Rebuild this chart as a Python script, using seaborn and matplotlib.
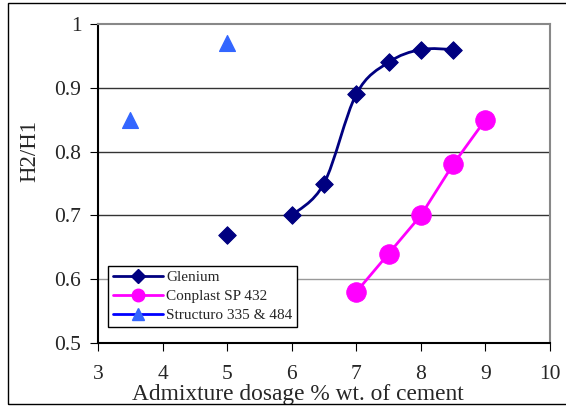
import numpy as np
import seaborn as sns
import matplotlib.pyplot as plt
from matplotlib.path import Path
from matplotlib.patches import PathPatch, Rectangle
from matplotlib.lines import Line2D

# ---------------------------------------------------------
# Data
# ---------------------------------------------------------
glenium_x = [5, 6, 6.5, 7, 7.5, 8, 8.5]
glenium_y = [0.67, 0.70, 0.75, 0.89, 0.94, 0.96, 0.96]
conplast_x = [7, 7.5, 8, 8.5, 9]
conplast_y = [0.58, 0.64, 0.70, 0.78, 0.85]
structuro_x = [3.5, 5]
structuro_y = [0.85, 0.97]

series_names = ["Glenium", "Conplast SP 432", "Structuro 335 & 484"]
x_ticks = [3, 4, 5, 6, 7, 8, 9, 10]
y_ticks = [0.5, 0.6, 0.7, 0.8, 0.9, 1.0]
y_tick_labels = ["0.5", "0.6", "0.7", "0.8", "0.9", "1"]

navy = "#000080"
magenta = "#FF00FF"
tri_blue = "#3366FF"

# ---------------------------------------------------------
# Styling
# ---------------------------------------------------------
sns.set_style("white")
plt.rcParams["font.family"] = ["Liberation Serif", "DejaVu Serif"]

fig = plt.figure(figsize=(5.66, 4.07), dpi=100)
ax = fig.add_axes([98 / 566, 64 / 407, 452 / 566, 319 / 407])

# outer frame of the exported chart
fig.patches.append(Rectangle((8 / 566, 3 / 407), 1.2, 401 / 407,
                             transform=fig.transFigure, fill=False,
                             edgecolor="black", linewidth=1.0))

# Glenium: smooth curve from 6 onwards (Excel-style smoothing), lone point at 5
px = np.array(glenium_x[1:])
py = np.array(glenium_y[1:])
pts = np.column_stack([px, py])
verts = [pts[0]]
codes = [Path.MOVETO]
for i in range(len(pts) - 1):
    p0 = pts[i - 1] if i > 0 else pts[i]
    p1 = pts[i]
    p2 = pts[i + 1]
    p3 = pts[i + 2] if i + 2 < len(pts) else pts[i + 1]
    verts += [p1 + (p2 - p0) / 6, p2 - (p3 - p1) / 6, p2]
    codes += [Path.CURVE4] * 3
ax.add_patch(PathPatch(Path(verts, codes), facecolor="none",
                       edgecolor=navy, linewidth=2, zorder=3))
sns.scatterplot(x=glenium_x, y=glenium_y, marker="D", s=80, color=navy,
                edgecolor=navy, ax=ax, zorder=4)

sns.lineplot(x=conplast_x, y=conplast_y, color=magenta, linewidth=2,
             marker="o", markersize=14, markeredgecolor=magenta, ax=ax, zorder=4)

sns.scatterplot(x=structuro_x, y=structuro_y, marker="^", s=130,
                color=tri_blue, edgecolor=tri_blue, ax=ax, zorder=4)

ax.set_xlim(3, 10)
ax.set_ylim(0.5, 1.0)
ax.set_xticks(x_ticks)
ax.set_yticks(y_ticks)
ax.set_yticklabels(y_tick_labels)
ax.tick_params(axis="both", labelsize=15.5, length=6, direction="out",
               color="black", bottom=True, left=True)
ax.tick_params(axis="x", pad=10)
ax.tick_params(axis="y", pad=6)

for y in y_ticks[1:-1]:
    ax.axhline(y, color="#333333" if y > 0.65 else "#999999",
               linewidth=1.0, zorder=1)

ax.spines["left"].set_color("black")
ax.spines["bottom"].set_color("black")
ax.spines["top"].set_color("#888888")
ax.spines["right"].set_color("#888888")
for s in ax.spines.values():
    s.set_linewidth(1.5)

ax.set_xlabel("Admixture dosage % wt. of cement", fontsize=16.8)
ax.xaxis.label.set_va("center")
ax.xaxis.set_label_coords(0.442, -0.163)
ax.set_ylabel("H2/H1", fontsize=16.4)
ax.yaxis.label.set_va("center")
ax.yaxis.set_label_coords(-0.150, 0.602)

handles = [
    Line2D([], [], color=navy, lw=2, marker="D", markersize=7),
    Line2D([], [], color=magenta, lw=2, marker="o", markersize=9),
    Line2D([], [], color="#0000FF", lw=2, marker="^", markersize=9,
           markerfacecolor=tri_blue, markeredgecolor=tri_blue),
]
leg = ax.legend(handles, series_names, loc="lower left",
                bbox_to_anchor=(10 / 452, 16 / 319), fontsize=11,
                frameon=True, fancybox=False, framealpha=1,
                edgecolor="black", handlelength=3.3, handletextpad=0.2,
                borderpad=0.3, labelspacing=0.35, borderaxespad=0)
leg.get_frame().set_linewidth(1.0)

fig.savefig("out.png", dpi=100)
plt.close(fig)
